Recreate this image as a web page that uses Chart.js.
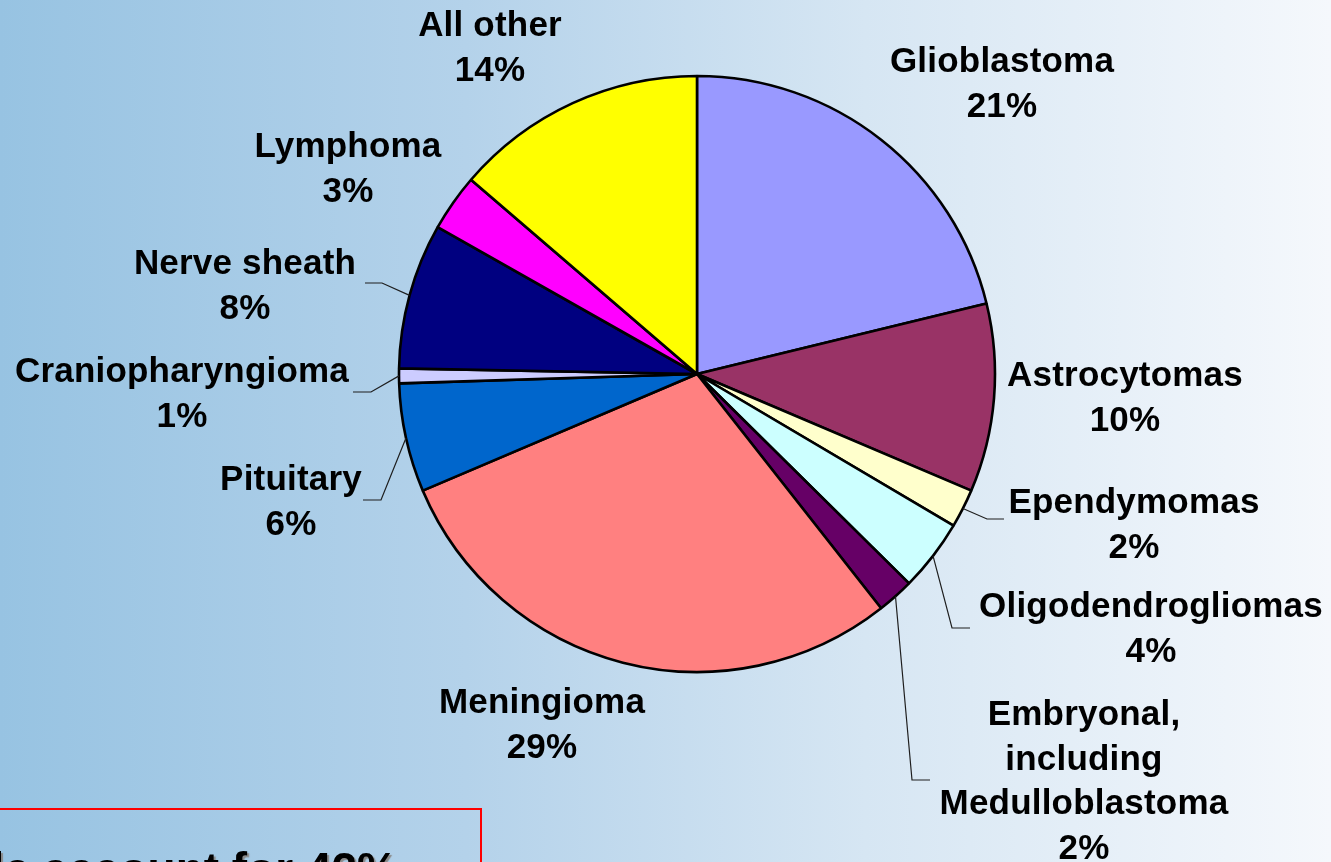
<!DOCTYPE html>
<html>
<head>
<meta charset="utf-8">
<title>Brain tumor histology distribution</title>
<script src="https://cdn.jsdelivr.net/npm/chart.js@4.4.1/dist/chart.umd.min.js"></script>
<style>
    html, body {
        margin: 0;
        padding: 0;
        width: 1331px;
        height: 862px;
        overflow: hidden;
        background: linear-gradient(to right, #97c3e2 0%, #b4d2ea 35%, #d6e6f3 65%, #f5f8fc 100%);
        font-family: "Liberation Sans", Arial, sans-serif;
    }
    #pie-wrap {
        position: absolute;
        left: 0;
        top: 0;
        width: 1331px;
        height: 862px;
    }
    .note-box {
        position: absolute;
        left: -30px;
        top: 808px;
        width: 508px;
        height: 120px;
        border: 2px solid #ff0000;
    }
    .note-text {
        position: absolute;
        right: 933px;
        top: 841px;
        white-space: nowrap;
        font-weight: bold;
        font-size: 46px;
        line-height: 56px;
        color: #000;
        text-shadow: 2px 2px 1px #8a8a8a;
    }
</style>
</head>
<body>
<div id="pie-wrap">
    <canvas id="histology-pie" width="1331" height="862"></canvas>
</div>
<div class="note-box"></div>
<div class="note-text">Glial tumors taken as a whole account for 42%</div>

<script>
// Histology groups, clockwise from 12 o'clock
const categories = [
    'Glioblastoma',
    'Astrocytomas',
    'Ependymomas',
    'Oligodendrogliomas',
    'Embryonal,\nincluding\nMedulloblastoma',
    'Meningioma',
    'Pituitary',
    'Craniopharyngioma',
    'Nerve sheath',
    'Lymphoma',
    'All other'
];

// Share of all tumors, percent
const shares = [21.2, 10.2, 2.1, 3.9, 2.0, 29.2, 5.9, 0.8, 7.9, 3.1, 13.7];

const sliceColors = [
    '#9999ff', '#993366', '#ffffcc', '#ccffff', '#660066',
    '#ff8080', '#0066cc', '#ccccff', '#000080', '#ff00ff', '#ffff00'
];

/**
 * Label placement, relative to the pie centre (px).
 * x = text centre, y = first baseline. leader = elbow and end of callout line.
 */
const labelSpots = [
    { x: 305, y: -302 },
    { x: 428, y: 12 },
    { x: 437, y: 139, leader: [[290, 145], [307, 145]] },
    { x: 454, y: 243, leader: [[255, 254], [273, 254]] },
    { x: 387, y: 351, leader: [[215, 406], [233, 406]] },
    { x: -155, y: 339 },
    { x: -406, y: 116, leader: [[-316, 126], [-334, 126]] },
    { x: -515, y: 8, leader: [[-326, 18], [-344, 18]] },
    { x: -452, y: -100, leader: [[-315, -91], [-332, -91]] },
    { x: -349, y: -217 },
    { x: -207, y: -338 }
];

const LINE_H = 44.5;

const sliceLabels = {
    id: 'sliceLabels',
    afterDatasetsDraw(chart) {
        const ctx = chart.ctx;
        const meta = chart.getDatasetMeta(0);

        ctx.save();
        meta.data.forEach((arc, i) => {
            const { x, y, startAngle, endAngle, outerRadius } = arc.getProps(
                ['x', 'y', 'startAngle', 'endAngle', 'outerRadius'], true);
            const spot = labelSpots[i];

            // callout line from the middle of the slice edge
            if (spot.leader) {
                const mid = (startAngle + endAngle) / 2;
                ctx.beginPath();
                ctx.moveTo(x + Math.cos(mid) * outerRadius, y + Math.sin(mid) * outerRadius);
                spot.leader.forEach(p => ctx.lineTo(x + p[0], y + p[1]));
                ctx.strokeStyle = '#1e1e1e';
                ctx.lineWidth = 1.2;
                ctx.stroke();
            }

            const lines = categories[i].split('\n');
            lines.push(Math.round(shares[i]) + '%');

            ctx.fillStyle = '#000';
            ctx.font = 'bold 35px "Liberation Sans", Arial, sans-serif';
            ctx.textAlign = 'center';
            ctx.textBaseline = 'alphabetic';
            ctx.letterSpacing = '0.2px';
            lines.forEach((txt, k) => {
                ctx.fillText(txt, x + spot.x, y + spot.y + k * LINE_H);
            });
        });
        ctx.restore();
    }
};

new Chart(document.getElementById('histology-pie'), {
    type: 'pie',
    data: {
        labels: categories,
        datasets: [{
            data: shares,
            backgroundColor: sliceColors,
            borderColor: '#000000',
            borderWidth: 2.6,
            radius: 298
        }]
    },
    options: {
        responsive: false,
        animation: false,
        layout: {
            padding: { left: 63, right: 0, top: 0, bottom: 114 }
        },
        plugins: {
            legend: { display: false },
            tooltip: { enabled: false }
        }
    },
    plugins: [sliceLabels]
});
</script>
</body>
</html>
